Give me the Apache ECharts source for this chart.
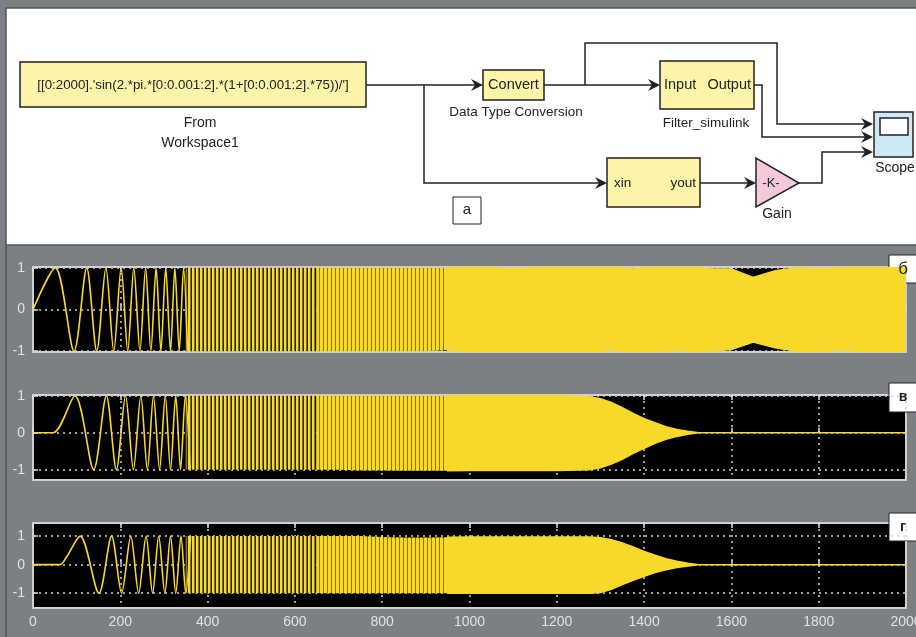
<!DOCTYPE html>
<html>
<head>
<meta charset="utf-8">
<script src="https://cdn.jsdelivr.net/npm/echarts@6/dist/echarts.min.js"></script>
<style>
  html, body { margin: 0; padding: 0; background: #7c7f83; }
  #chart { width: 916px; height: 637px; }
</style>
</head>
<body>
<div id="chart"></div>
<script>
// axis ticks
var xTicks = [0, 200, 400, 600, 800, 1000, 1200, 1400, 1600, 1800, 2000];
var yTicks = [-1, 0, 1];

// first cycles of each trace, read peak by peak (sample, value)
var scopeBX = [0, 51, 94, 123, 146, 167, 185, 202, 217, 231, 245, 258, 270, 282, 293, 304, 315, 325, 335, 345, 354];
var scopeBY = [0, 1, -1, 1, -1, 1, -1, 1, -1, 1, -1, 1, -1, 1, -1, 1, -1, 1, -1, 1, -1];
var scopeVX = [0, 46, 96, 139, 168, 191, 212, 230, 247, 262, 276, 290, 303, 315, 327, 338, 349, 360];
var scopeVY = [0, 0, 1, -1, 1, -1, 1, -1, 1, -1, 1, -1, 1, -1, 1, -1, 1, -1];
var scopeGX = [0, 62, 76, 108, 151, 180, 203, 224, 242, 259, 274, 288, 302, 315, 327, 339, 350, 361];
var scopeGY = [0, 0, 0.25, 1, -1, 1, -1, 1, -1, 1, -1, 1, -1, 1, -1, 1, -1, 1];

// envelope of the dense part of each trace
var envX = [350, 400, 450, 500, 550, 600, 650, 700, 750, 800, 850, 900, 950, 1000, 1050, 1100, 1150, 1200, 1250,
            1275, 1300, 1325, 1350, 1375, 1400, 1425, 1450, 1475, 1500, 1525, 1550,
            1600, 1650, 1700, 1750, 1800, 1850, 1900, 1950, 2000];
var bUpper = [1, 1, 1, 1, 1, 1, 1, 1, 1, 1, 1, 1, 1, 1, 1, 0.98, 1, 1, 1,
              1, 1, 1, 1, 0.97, 1, 1, 1, 1, 1, 1, 0.98,
              0.97, 0.77, 0.93, 1, 0.98, 1, 1, 1, 1];
var bLower = [-1, -1, -1, -1, -1, -1, -1, -1, -1, -1, -1, -1, -0.98, -1, -1, -1, -1, -1, -1,
              -1, -1, -0.97, -1, -1, -1, -1, -1, -0.98, -1, -1, -1,
              -0.96, -0.78, -0.92, -1, -1, -0.98, -1, -1, -1];
var vUpper = [1, 1, 1, 1, 1, 1, 1, 1, 1, 1, 1, 1, 1, 1, 1, 1, 1, 1, 0.98,
              0.97, 0.92, 0.82, 0.68, 0.52, 0.38, 0.27, 0.16, 0.09, 0.04, 0, 0,
              0, 0, 0, 0, 0, 0, 0, 0, 0];
var vLower = [-1, -1, -1, -1, -1, -1, -1, -1, -1.02, -1.02, -1.03, -1.03, -1.03, -1.02, -1.02, -1.02, -1.02, -1.02, -1.01,
              -1, -0.95, -0.85, -0.72, -0.56, -0.42, -0.29, -0.18, -0.1, -0.04, 0, 0,
              0, 0, 0, 0, 0, 0, 0, 0, 0];
var gUpper = [1, 1, 1, 1, 1, 1, 1, 1, 1, 0.97, 0.95, 0.95, 0.96, 0.97, 0.97, 0.97, 0.97, 0.97, 0.97,
              0.97, 0.94, 0.87, 0.76, 0.62, 0.46, 0.33, 0.21, 0.12, 0.05, 0, 0,
              0, 0, 0, 0, 0, 0, 0, 0, 0];
var gLower = [-1, -1, -1, -1, -1, -1, -1, -1, -1, -1, -1, -1, -1, -1, -1, -1, -1, -1, -1,
              -1, -0.98, -0.86, -0.7, -0.55, -0.41, -0.28, -0.18, -0.1, -0.05, 0, 0,
              0, 0, 0, 0, 0, 0, 0, 0, 0];

var panelLabels = ['б', 'в', 'г'];

var FONT = '"Liberation Sans", Arial, sans-serif';
var YELLOW = '#f7d92a';
var OLIVE = '#7a7032';
var DARK = '#24220f';

function stripes(cols) {
  var c = document.createElement('canvas');
  c.width = cols.length;
  c.height = 4;
  var ctx = c.getContext('2d');
  cols.forEach(function (col, i) {
    ctx.fillStyle = col;
    ctx.fillRect(i, 0, 1, 4);
  });
  return c;
}
var patA = { image: stripes([YELLOW, YELLOW, OLIVE, DARK]), repeat: 'repeat' };
var patB = { image: stripes([YELLOW, YELLOW, YELLOW, OLIVE]), repeat: 'repeat' };

var sections = [
  { from: 350, to: 650, fill: patA, line: 0 },
  { from: 650, to: 950, fill: patB, line: 0 },
  { from: 950, to: 2000, fill: YELLOW, line: 1.5 }
];

var panels = [
  { px: scopeBX, py: scopeBY, up: bUpper, lo: bLower, top: 267, min: -1.02, max: 1.02 },
  { px: scopeVX, py: scopeVY, up: vUpper, lo: vLower, top: 395, min: -1.28, max: 1.02 },
  { px: scopeGX, py: scopeGY, up: gUpper, lo: gLower, top: 523, min: -1.52, max: 1.46 }
];

function pairs(xs, ys) {
  return xs.map(function (x, i) { return [x, ys[i]]; });
}

// one filled polygon between lower and upper envelope
function bandRenderer(s) {
  return function (params, api) {
    if (params.dataIndex !== 0) return null;
    var n = params.dataInsideLength;
    var top = [], bottom = [];
    for (var j = 0; j < n; j++) {
      top.push(api.coord([api.value(0, j), api.value(2, j)]));
      bottom.unshift(api.coord([api.value(0, j), api.value(1, j)]));
    }
    return {
      type: 'polygon',
      shape: { points: top.concat(bottom) },
      style: { fill: s.fill, stroke: s.line ? YELLOW : null, lineWidth: s.line }
    };
  };
}

var grids = [], xAxes = [], topAxes = [], yAxes = [], series = [];

panels.forEach(function (p, i) {
  grids.push({
    left: 33, right: 10, top: p.top, height: 85, outerBoundsMode: 'none', containLabel: false,
    show: true, backgroundColor: '#000', borderColor: '#cfcfcf', borderWidth: 2
  });
  xAxes.push({
    gridIndex: i, type: 'value',
    min: xTicks[0], max: xTicks[xTicks.length - 1], interval: xTicks[1] - xTicks[0],
    axisLine: { show: false },
    axisTick: { inside: true, length: 5, lineStyle: { color: '#e0e0e0', width: 1.5 } },
    axisLabel: { show: i === 2, color: '#e2e2e2', fontSize: 14, fontFamily: FONT, margin: 7,
                 formatter: function (v) { return String(v); } },
    splitLine: { show: true, lineStyle: { color: '#cfcfcf', type: [2, 4], width: 1.5 } }
  });
  topAxes.push({
    gridIndex: i, type: 'value', position: 'top',
    min: xTicks[0], max: xTicks[xTicks.length - 1], interval: xTicks[1] - xTicks[0],
    axisLine: { show: false },
    axisTick: { inside: true, length: 5, lineStyle: { color: '#e0e0e0', width: 1.5 } },
    axisLabel: { show: false },
    splitLine: { show: false }
  });
  yAxes.push({
    gridIndex: i, type: 'value', min: p.min, max: p.max,
    axisLine: { show: false },
    axisTick: { show: true, inside: true, length: 5, customValues: yTicks, lineStyle: { color: '#e0e0e0', width: 1.5 } },
    axisLabel: { color: '#e2e2e2', fontSize: 14, fontFamily: FONT, margin: 8, customValues: yTicks },
    splitLine: { show: false }
  });

  // dotted reference lines at the y ticks
  series.push({
    type: 'lines', coordinateSystem: 'cartesian2d', xAxisIndex: i, yAxisIndex: i, z: 1, silent: true,
    lineStyle: { color: '#d4d4d4', type: [2, 4], width: 1.5, opacity: 1 },
    data: yTicks.map(function (v) {
      return { coords: [[xTicks[0], v], [xTicks[xTicks.length - 1], v]] };
    })
  });

  // clearly separated first cycles
  series.push({
    type: 'line', xAxisIndex: i, yAxisIndex: i, z: 4, silent: true,
    symbol: 'none', smooth: 0.3,
    lineStyle: { color: YELLOW, width: 1.6 },
    data: pairs(p.px, p.py)
  });

  // dense part drawn as a band between its lower and upper envelope
  sections.forEach(function (s) {
    var rows = envX.map(function (x, j) { return [x, p.lo[j], p.up[j]]; })
      .filter(function (r) { return r[0] >= s.from && r[0] <= s.to; });
    series.push({
      type: 'custom', xAxisIndex: i, yAxisIndex: i, z: 3, silent: true,
      renderItem: bandRenderer(s),
      encode: { x: 0, y: [1, 2] },
      clip: true,
      data: rows
    });
  });
});

// simulink diagram drawn on top
var INK = '#222';
var graphic = [];
function box(x, y, w, h, fill, lw) {
  graphic.push({ type: 'rect', shape: { x: x, y: y, width: w, height: h }, style: { fill: fill, stroke: INK, lineWidth: lw || 1.5 } });
}
function wire(pts) {
  graphic.push({ type: 'polyline', shape: { points: pts }, style: { stroke: INK, lineWidth: 1.5, fill: null } });
}
function arrow(tx, ty) {
  graphic.push({ type: 'polygon', shape: { points: [[tx - 12, ty - 6], [tx, ty], [tx - 12, ty + 6], [tx - 8, ty]] }, style: { fill: INK } });
}
function label(t, x, y, size, align, weight) {
  graphic.push({ type: 'text', z: 10, style: {
    text: t, x: x, y: y, fill: INK, align: align || 'center', verticalAlign: 'middle',
    font: (weight || 'normal') + ' ' + size + 'px ' + FONT } });
}

graphic.push({ type: 'rect', shape: { x: 6, y: 8, width: 940, height: 237 }, style: { fill: '#fff', stroke: '#555', lineWidth: 1.5 } });
graphic.push({ type: 'polyline', shape: { points: [[6, 245], [6, 637]] }, style: { stroke: '#555', lineWidth: 1.5 } });

box(20, 62, 346, 45, '#fcf4a8');
label("[[0:2000].'sin(2.*pi.*[0:0.001:2].*(1+[0:0.001:2].*75))/']", 193, 85, 13.3);
label('From', 200, 123, 14);
label('Workspace1', 200, 143, 14);

wire([[366, 85], [476, 85]]); arrow(483, 85);
wire([[424, 85], [424, 183], [600, 183]]); arrow(607, 183);

box(483, 70, 61, 30, '#fcf4a8');
label('Convert', 513.5, 85, 14.5);
label('Data Type Conversion', 516, 112, 13.5);

wire([[544, 85], [653, 85]]); arrow(660, 85);
wire([[585, 85], [585, 43], [777, 43], [777, 124], [866, 124]]); arrow(873, 124);

box(660, 61, 94, 48, '#fcf4a8');
label('Input', 664, 85, 14.5, 'left');
label('Output', 751, 85, 14.5, 'right');
label('Filter_simulink', 706, 123, 13.5);
wire([[754, 85], [762, 85], [762, 137], [866, 137]]); arrow(873, 137);

box(607, 158, 93, 49, '#fcf4a8');
label('xin', 614, 183, 13.5, 'left');
label('yout', 696, 183, 13.5, 'right');
wire([[700, 183], [749, 183]]); arrow(756, 183);

graphic.push({ type: 'polygon', shape: { points: [[756, 158], [756, 207], [799, 183]] }, style: { fill: '#f6c8dc', stroke: INK, lineWidth: 1.5 } });
label('-K-', 771, 183, 13);
label('Gain', 777, 214, 14);
wire([[799, 183], [822, 183], [822, 152], [866, 152]]); arrow(873, 152);

box(874, 112, 39, 45, '#cde9f6');
box(880, 118, 28, 17, '#fff');
label('Scope', 895, 168, 14);

box(453, 197, 28, 27, '#fff', 1);
label('a', 467, 210, 15);

// panel letters
[[255, 28], [383, 29], [513, 28]].forEach(function (b, i) {
  box(889, b[0], 32, b[1], '#fff', 1);
  label(panelLabels[i], 903, b[0] + b[1] / 2, i === 0 ? 17 : 14, 'center', i === 0 ? 'normal' : 'bold');
});

var chart = echarts.init(document.getElementById('chart'), null, { renderer: 'canvas' });
chart.setOption({
  backgroundColor: '#7c7f83',
  animation: false,
  grid: grids,
  xAxis: xAxes.concat(topAxes),
  yAxis: yAxes,
  series: series,
  graphic: graphic
});
</script>
</body>
</html>
